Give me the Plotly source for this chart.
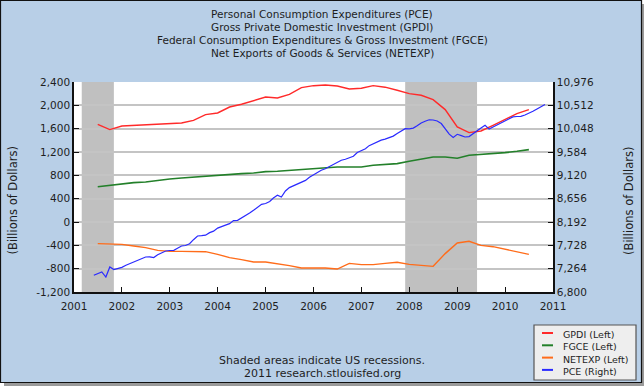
import plotly.graph_objects as go

# ---------------- data ----------------
title_lines = [
    "Personal Consumption Expenditures (PCE)",
    "Gross Private Domestic Investment (GPDI)",
    "Federal Consumption Expenditures & Gross Investment (FGCE)",
    "Net Exports of Goods & Services (NETEXP)",
]

# quarterly observations 2001Q3 .. 2010Q3
quarter_dates = [f"{y}-{m:02d}-01" for y in range(2001, 2011) for m in (1, 4, 7, 10)]
quarter_dates = [d for d in quarter_dates if "2001-07-01" <= d <= "2010-07-01"]

gpdi = [1675, 1584,
        1646, 1655, 1658, 1675,
        1680, 1697, 1743, 1840,
        1869, 1971, 2018, 2074,
        2143, 2126, 2189, 2303,
        2337, 2349, 2331, 2280,
        2292, 2337, 2311, 2258,
        2201, 2172, 2098, 1927,
        1629, 1532, 1560, 1658,
        1755, 1858, 1927]

fgce = [605, 629,
        651, 675, 686, 715,
        737, 754, 771, 778,
        806, 817, 829, 840,
        864, 869, 886, 898,
        909, 926, 943, 943,
        943, 972, 989, 1001,
        1041, 1075, 1114, 1114,
        1092, 1144, 1155, 1172,
        1189, 1212, 1241]

netexp = [-371, -371,
          -383, -412, -440, -486,
          -503, -503, -503, -509,
          -554, -611, -645, -686,
          -686, -714, -748, -789,
          -789, -789, -806, -709,
          -731, -731, -709, -691,
          -726, -748, -760, -542,
          -360, -331, -400, -423,
          -463, -509, -554]

# monthly observations 2001-06 .. 2010-11
month_dates = [f"{y}-{m:02d}-01" for y in range(2001, 2011) for m in range(1, 13)]
month_dates = [d for d in month_dates if "2001-06-01" <= d <= "2010-11-01"]

pce = [7132, 7160, 7198, 7098, 7297, 7245, 7265,
       7290, 7331, 7360, 7390, 7420, 7460, 7496, 7500, 7484, 7540, 7580, 7615,
       7625, 7629, 7670, 7715, 7725, 7760, 7840, 7914, 7920, 7930, 7980, 8010,
       8070, 8095, 8130, 8160, 8220, 8226, 8270, 8311, 8370, 8425, 8490, 8544,
       8560, 8600, 8670, 8723, 8689, 8810, 8876, 8910, 8942, 8990, 9020, 9080,
       9130, 9170, 9220, 9250, 9295, 9340, 9385, 9420, 9440, 9470, 9500, 9575,
       9610, 9650, 9710, 9750, 9790, 9820, 9840, 9870, 9900, 9950, 10000, 10049,
       10045, 10060, 10105, 10160, 10195, 10225, 10220, 10200, 10150, 10050, 9940, 9875,
       9936, 9910, 9882, 9890, 9950, 10000, 10060, 10115, 10040, 10081, 10120, 10165,
       10210, 10250, 10281, 10290, 10294, 10320, 10350, 10395, 10440, 10490, 10527]

recessions = [("2001-03-01", "2001-11-01"), ("2007-12-01", "2009-06-01")]

year_labels = [str(y) for y in range(2001, 2012)]
year_ticks = [f"{y}-01-01" for y in year_labels]

left_ticks = [-1200, -800, -400, 0, 400, 800, 1200, 1600, 2000, 2400]
left_tick_labels = ["-1,200", "-800", "-400", "0", "400", "800", "1,200", "1,600", "2,000", "2,400"]

right_ticks = [6800, 7264, 7728, 8192, 8656, 9120, 9584, 10048, 10512, 10976]
right_tick_labels = ["6,800", "7,264", "7,728", "8,192", "8,656", "9,120", "9,584", "10,048", "10,512", "10,976"]

series_names = ["GPDI (Left)", "FGCE (Left)", "NETEXP (Left)", "PCE (Right)"]
series_colors = ["#ff2a2a", "#23802a", "#ff6c1a", "#2a2aff"]

axis_title = "(Billions of Dollars)"
footer_lines = ["Shaded areas indicate US recessions.", "2011 research.stlouisfed.org"]

# ---------------- layout geometry ----------------
W, H = 644, 388
ML, MR, MT, MB = 74, 91, 82, 96
PW, PH = W - ML - MR, H - MT - MB


def px(x):
    return (x - ML) / PW


def py(y):
    return (H - MB - y) / PH


FONT = "DejaVu Sans"
TXT = "#1e1e1e"

fig = go.Figure()
fig.add_trace(go.Scatter(x=quarter_dates, y=gpdi, mode="lines", name=series_names[0],
                         line=dict(color=series_colors[0], width=1.4)))
fig.add_trace(go.Scatter(x=quarter_dates, y=fgce, mode="lines", name=series_names[1],
                         line=dict(color=series_colors[1], width=1.6)))
fig.add_trace(go.Scatter(x=quarter_dates, y=netexp, mode="lines", name=series_names[2],
                         line=dict(color=series_colors[2], width=1.4)))
fig.add_trace(go.Scatter(x=month_dates, y=pce, mode="lines", name=series_names[3], yaxis="y2",
                         line=dict(color=series_colors[3], width=1.2)))

shapes = []
for a, b in recessions:
    shapes.append(dict(type="rect", xref="x", yref="paper", x0=a, x1=b, y0=0, y1=1,
                       fillcolor="#c0c0c0", line=dict(width=0), layer="between"))

# outer frame, white outside area and drop shadow
shapes.append(dict(type="rect", xref="paper", yref="paper", x0=px(641.5), x1=px(660), y0=py(-10), y1=py(400),
                   fillcolor="white", line=dict(width=0)))
shapes.append(dict(type="rect", xref="paper", yref="paper", x0=px(-10), x1=px(660), y0=py(383), y1=py(400),
                   fillcolor="white", line=dict(width=0)))
shapes.append(dict(type="rect", xref="paper", yref="paper", x0=px(641.5), x1=px(644), y0=py(4), y1=py(386),
                   fillcolor="#9a9a9a", line=dict(width=0)))
shapes.append(dict(type="rect", xref="paper", yref="paper", x0=px(4), x1=px(644), y0=py(383), y1=py(386),
                   fillcolor="#9a9a9a", line=dict(width=0)))
shapes.append(dict(type="rect", xref="paper", yref="paper", x0=px(0.5), x1=px(641.5), y0=py(0.5), y1=py(382.5),
                   fillcolor="rgba(0,0,0,0)", line=dict(color="#111", width=1.2)))

# legend box
LX0, LX1, LY0, LY1 = 534, 636, 325, 380
shapes.append(dict(type="rect", xref="paper", yref="paper", x0=px(LX0), x1=px(LX1), y0=py(LY0), y1=py(LY1),
                   fillcolor="#eeeeee", line=dict(color="#555", width=1.2)))
annotations = []
for i, (nm, col) in enumerate(zip(series_names, series_colors)):
    yy = 333 + 12.3 * i
    shapes.append(dict(type="line", xref="paper", yref="paper", x0=px(542), x1=px(553), y0=py(yy), y1=py(yy),
                       line=dict(color=col, width=2)))
    annotations.append(dict(text=nm, xref="paper", yref="paper", x=px(561), y=py(yy + 1.5),
                            xanchor="left", yanchor="middle", showarrow=False,
                            font=dict(family=FONT, size=9.5, color=TXT)))

for i, t in enumerate(title_lines):
    annotations.append(dict(text=t, xref="paper", yref="paper", x=px(322), y=py(14 + 13.1 * i),
                            xanchor="center", yanchor="middle", showarrow=False,
                            font=dict(family=FONT, size=10.5, color=TXT)))

for i, t in enumerate(footer_lines):
    annotations.append(dict(text=t, xref="paper", yref="paper", x=px(322), y=py(360 + 13.5 * i),
                            xanchor="center", yanchor="middle", showarrow=False,
                            font=dict(family=FONT, size=11, color=TXT)))

annotations.append(dict(text=axis_title, xref="paper", yref="paper", x=px(12.5), y=py(201),
                        xanchor="center", yanchor="middle", textangle=-90, showarrow=False,
                        font=dict(family=FONT, size=11.5, color=TXT)))
annotations.append(dict(text=axis_title, xref="paper", yref="paper", x=px(629), y=py(201),
                        xanchor="center", yanchor="middle", textangle=-90, showarrow=False,
                        font=dict(family=FONT, size=11.5, color=TXT)))

tickfont = dict(family=FONT, size=10.5, color=TXT)
fig.update_layout(
    width=W, height=H, autosize=False,
    margin=dict(l=ML, r=MR, t=MT, b=MB, pad=0),
    paper_bgcolor="#b8cfe7", plot_bgcolor="white",
    showlegend=False,
    shapes=shapes, annotations=annotations,
    xaxis=dict(type="date", range=["2001-01-01", "2011-01-01"], tickvals=year_ticks, ticktext=year_labels,
               showgrid=False, zeroline=False, showline=True, linecolor="#111", linewidth=1.5,
               ticks="inside", ticklen=5, tickcolor="#111", tickwidth=1.2, tickfont=tickfont,
               ticklabelstandoff=4),
    yaxis=dict(range=[-1200, 2400], tickvals=left_ticks, ticktext=left_tick_labels,
               showgrid=True, gridcolor="#c4c4c4", gridwidth=1.5, zeroline=False,
               showline=True, linecolor="#111", linewidth=1.5,
               ticks="inside", ticklen=5, tickcolor="#111", tickwidth=1.2, tickfont=tickfont),
    yaxis2=dict(range=[6800, 10976], tickvals=right_ticks, ticktext=right_tick_labels,
                overlaying="y", side="right", showgrid=False, zeroline=False,
                showline=True, linecolor="#111", linewidth=1.5,
                ticks="inside", ticklen=5, tickcolor="#111", tickwidth=1.2, tickfont=tickfont),
)

# the page's default 8px body margin would shift the 644x388 figure off the window
fig.write_html("out.html", config={"displayModeBar": False},
               post_script="document.body.style.margin='0px';")
